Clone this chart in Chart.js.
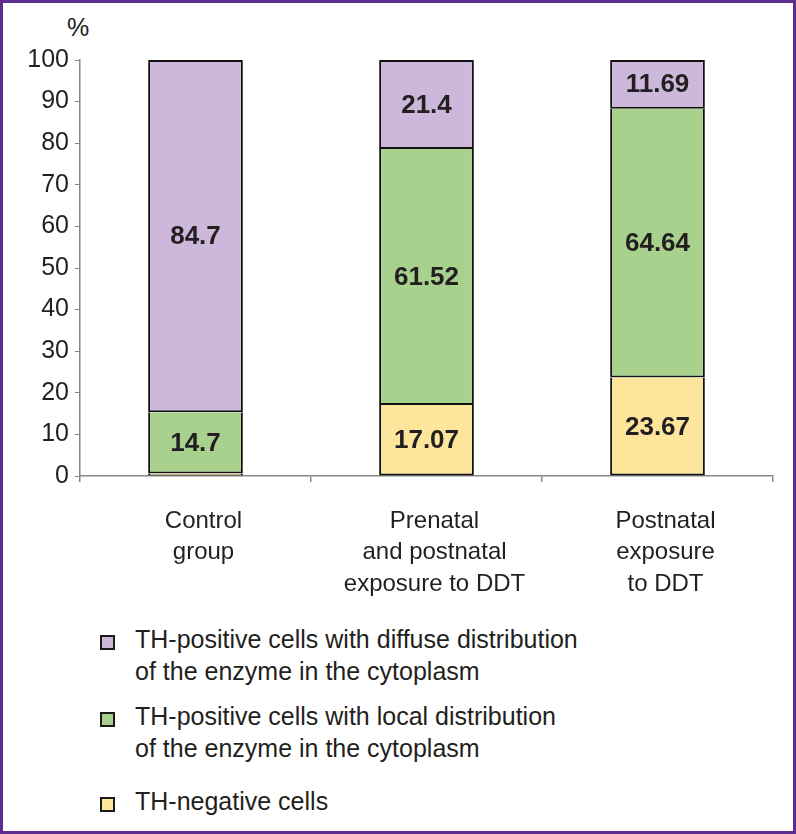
<!DOCTYPE html>
<html>
<head>
<meta charset="utf-8">
<script src="https://cdn.jsdelivr.net/npm/chart.js@4"></script>
<style>
  html, body { margin: 0; padding: 0; background: #fff; }
  #frame {
    position: relative; width: 796px; height: 834px; box-sizing: border-box;
    border: 3px solid #5C2D91; background: #fff;
    font-family: "Liberation Sans", Arial, sans-serif; color: #231F20;
  }
  #wrap { position: absolute; left: 0; top: 0; width: 790px; height: 600px; }
  #unit { position: absolute; left: 64px; top: 10px; font-size: 25px; }
  #legend { position: absolute; left: 97px; top: 620px; font-size: 25px; line-height: 32px; }
  .item { position: relative; padding-left: 35px; }
  .box { position: absolute; left: 0; top: 12px; width: 11px; height: 11px; border: 2px solid #1a1a1a; }
</style>
</head>
<body>
<div id="frame">
  <div id="unit">%</div>
  <div id="wrap"><canvas id="chart"></canvas></div>
  <div id="legend"></div>
</div>
<script>
// Categorías y valores (%)
const categorias = [['Control', 'group'], ['Prenatal', 'and postnatal', 'exposure to DDT'], ['Postnatal', 'exposure', 'to DDT']];
const negativas = [0.6, 17.07, 23.67];
const locales = [14.7, 61.52, 64.64];
const difusas = [84.7, 21.4, 11.69];
const etiquetasNeg = ['', '17.07', '23.67'];
const etiquetasLoc = ['14.7', '61.52', '64.64'];
const etiquetasDif = ['84.7', '21.4', '11.69'];

const nombres = [
    ['TH-positive cells with diffuse distribution', 'of the enzyme in the cytoplasm'],
    ['TH-positive cells with local distribution', 'of the enzyme in the cytoplasm'],
    ['TH-negative cells']
];
const colores = ['#CDB8DB', '#A9D18E', '#FDE59C'];

const fuente = '"Liberation Sans", Arial, sans-serif';

// Valores dentro de las barras
const valoresPlugin = {
    id: 'valores',
    afterDatasetsDraw(chart) {
        const ctx = chart.ctx;
        ctx.save();
        ctx.font = 'bold 26px ' + fuente;
        ctx.fillStyle = '#231F20';
        ctx.textAlign = 'center';
        ctx.textBaseline = 'middle';
        chart.data.datasets.forEach((ds, i) => {
            chart.getDatasetMeta(i).data.forEach((bar, j) => {
                const txt = ds.etiquetas[j];
                if (!txt) return;
                ctx.fillText(txt, bar.x, (bar.y + bar.base) / 2 + 1);
            });
        });
        ctx.restore();
    }
};

// la línea entre segmentos la pone el borde inferior del segmento de arriba
const bordeSinTope = { top: 0, left: 2, right: 2, bottom: 2 };

new Chart(document.getElementById('chart').getContext('2d'), {
    type: 'bar',
    data: {
        labels: categorias,
        datasets: [
            { label: 'TH-negative cells', data: negativas, etiquetas: etiquetasNeg, backgroundColor: colores[2], borderWidth: bordeSinTope },
            { label: 'local', data: locales, etiquetas: etiquetasLoc, backgroundColor: colores[1], borderWidth: bordeSinTope },
            { label: 'diffuse', data: difusas, etiquetas: etiquetasDif, backgroundColor: colores[0], borderWidth: 2 }
        ].map(d => Object.assign(d, {
            borderColor: '#111',
            borderSkipped: false,
            categoryPercentage: 1,
            barPercentage: 0.41
        }))
    },
    options: {
        responsive: true,
        maintainAspectRatio: false,
        animation: false,
        layout: { padding: { top: 57, right: 20, left: 0, bottom: 0 } },
        plugins: { legend: { display: false }, tooltip: { enabled: false } },
        scales: {
            x: {
                stacked: true,
                grid: { offset: true, drawOnChartArea: false, color: '#888', tickLength: 6, lineWidth: 1.5 },
                border: { color: '#888', width: 1.5 },
                ticks: { color: '#231F20', font: { family: fuente, size: 24, lineHeight: 1.3 }, padding: 24, labelOffset: 8, maxRotation: 0 },
                afterFit: s => { s.height = 127; }
            },
            y: {
                stacked: true,
                min: 0,
                max: 100,
                grid: { drawOnChartArea: false, color: '#888', tickLength: 5, lineWidth: 1 },
                border: { color: '#888', width: 1.5 },
                ticks: { stepSize: 10, color: '#231F20', font: { family: fuente, size: 25 }, padding: 6 },
                afterFit: s => { s.width = 77; }
            }
        }
    },
    plugins: [valoresPlugin]
});

// Leyenda con texto en varias líneas
const leyenda = document.getElementById('legend');
const margenes = [0, 13, 21];
nombres.forEach((lineas, i) => {
    const div = document.createElement('div');
    div.className = 'item';
    div.style.marginTop = margenes[i] + 'px';
    div.innerHTML = '<span class="box" style="background:' + colores[i] + '"></span>' + lineas.join('<br>');
    leyenda.appendChild(div);
});
</script>
</body>
</html>
